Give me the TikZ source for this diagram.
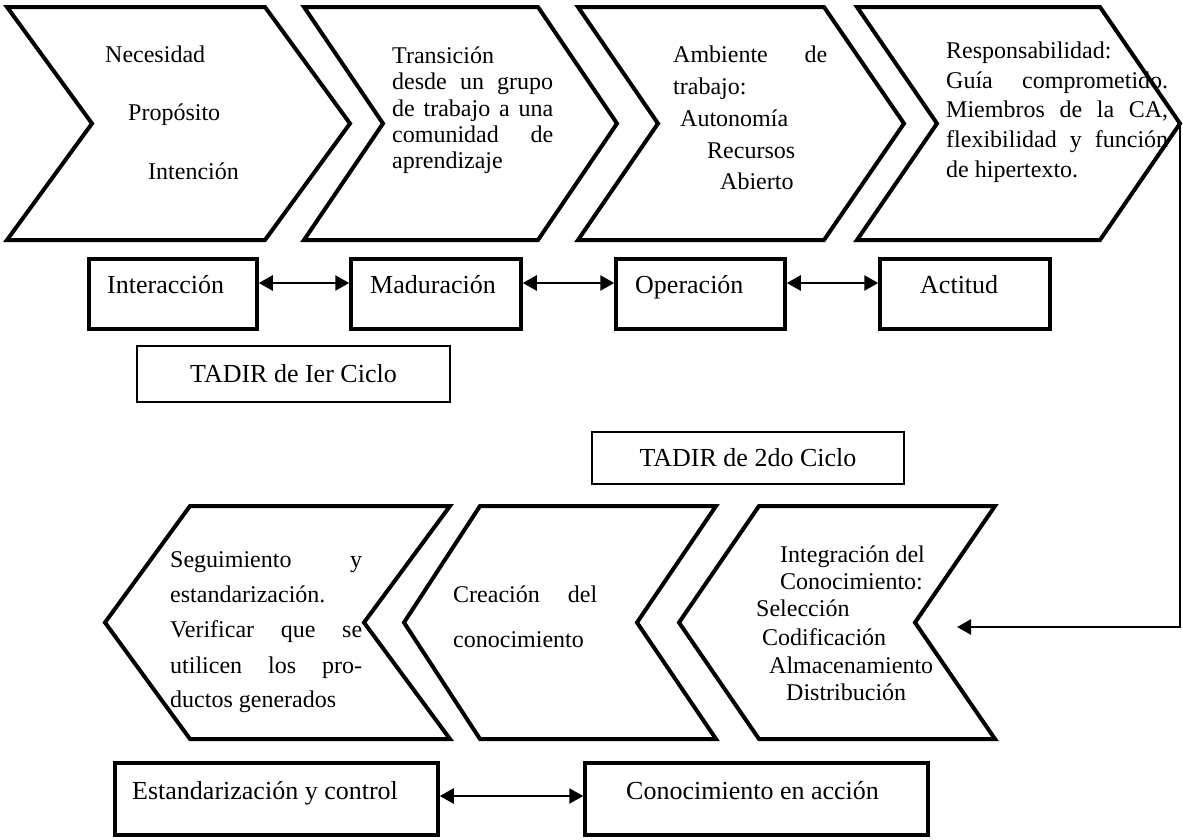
\documentclass[tikz,border=0pt]{standalone}
\usepackage{fontspec}
\setmainfont{Liberation Serif}
\usetikzlibrary{arrows.meta}
\begin{document}
\begin{tikzpicture}[x=1pt,y=-1pt,
  chev/.style={draw=black,line width=4pt,fill=white},
  stagebox/.style={draw=black,line width=3.5pt,inner sep=0pt},
  cyclebox/.style={draw=black,line width=1.4pt,inner sep=0pt,font=\fontsize{26}{30}\selectfont},
  txt/.style={anchor=base west,inner sep=0pt,font=\fontsize{24}{28}\selectfont},
  boxtxt/.style={anchor=base west,inner sep=0pt,font=\fontsize{26}{30}\selectfont},
  link/.style={line width=2.5pt,{Triangle[length=14pt,width=15pt]}-{Triangle[length=14pt,width=15pt]}},
  feed/.style={line width=2.5pt,-{Triangle[length=14pt,width=15pt]}}
]
\useasboundingbox (0,0) rectangle (1183,839);

% first cycle: chevrons pointing right
\foreach \l/\m/\r/\t in {7/92/265/350, 304/383/538/617, 578/658/824/904, 857/937/1100/1180}{
  \draw[chev] (\l,7) -- (\r,7) -- (\t,123.5) -- (\r,240) -- (\l,240) -- (\m,123.5) -- cycle;
}
\coordinate (tip4) at (1180,123.5);

% second cycle: chevrons pointing left
\foreach \t/\l/\m/\r in {105/190/364/450, 404/480/637/716, 679/759/915/995}{
  \draw[chev] (\l,506) -- (\r,506) -- (\m,622.5) -- (\r,739) -- (\l,739) -- (\t,622.5) -- cycle;
}
\coordinate (intin) at (957,627);

% texts of the first cycle
\node[txt] (n1) at (105,62) {Necesidad};
\node[txt] (n2) at (128,120) {Propósito};
\node[txt] (n3) at (148,179) {Intención};

\node[txt] (t1) at (392,63) {Transición};
\node[txt] (t2) at (392,89) {\makebox[161pt][s]{desde un grupo}};
\node[txt] (t3) at (392,116) {\makebox[161pt][s]{de trabajo a una}};
\node[txt] (t4) at (392,142) {\makebox[161pt][s]{comunidad de}};
\node[txt] (t5) at (392,168) {aprendizaje};

\node[txt] (a1) at (673,62) {\makebox[154pt][s]{Ambiente de}};
\node[txt] (a2) at (673,94) {trabajo:};
\node[txt] (a3) at (680,126) {Autonomía};
\node[txt] (a4) at (707,158) {Recursos};
\node[txt] (a5) at (720,189) {Abierto};

\node[txt] (r1) at (946,58) {Responsabilidad:};
\node[txt] (r2) at (946,88) {\makebox[222pt][s]{Guía comprometido.}};
\node[txt] (r3) at (946,117) {\makebox[222pt][s]{Miembros de la CA,}};
\node[txt] (r4) at (946,147) {\makebox[222pt][s]{flexibilidad y función}};
\node[txt] (r5) at (946,177) {de hipertexto.};

% texts of the second cycle
\node[txt] (s1) at (170,567) {\makebox[192pt][s]{Seguimiento y}};
\node[txt] (s2) at (170,602) {estandarización.};
\node[txt] (s3) at (170,637) {\makebox[192pt][s]{Verificar que se}};
\node[txt] (s4) at (170,673) {\makebox[192pt][s]{utilicen los pro-}};
\node[txt] (s5) at (170,707) {ductos generados};

\node[txt] (c1) at (453,602) {\makebox[144pt][s]{Creación del}};
\node[txt] (c2) at (453,647) {conocimiento};

\node[txt] (i1) at (780,562) {Integración del};
\node[txt] (i2) at (780,589) {Conocimiento:};
\node[txt] (i3) at (756,616) {Selección};
\node[txt] (i4) at (762,645) {Codificación};
\node[txt] (i5) at (769,673) {Almacenamiento};
\node[txt] (i6) at (786,700) {Distribución};

% stage boxes of the first cycle
\node[stagebox, minimum width=168pt, minimum height=70pt] (b1) at (173,294) {};
\node[stagebox, minimum width=170pt, minimum height=70pt] (b2) at (436,294) {};
\node[stagebox, minimum width=169pt, minimum height=70pt] (b3) at (700.5,294) {};
\node[stagebox, minimum width=170pt, minimum height=70pt] (b4) at (965,294) {};
\node[boxtxt] (b1t) at (107,293) {Interacción};
\node[boxtxt] (b2t) at (370,293) {Maduración};
\node[boxtxt] (b3t) at (635,293) {Operación};
\node[boxtxt] (b4t) at (920,293) {Actitud};

\draw[link] ([yshift=11pt]b1.east) -- ([yshift=11pt]b2.west);
\draw[link] ([yshift=11pt]b2.east) -- ([yshift=11pt]b3.west);
\draw[link] ([yshift=11pt]b3.east) -- ([yshift=11pt]b4.west);

% cycle titles
\node[cyclebox, minimum width=313pt, minimum height=56pt] (cyc1) at (293.5,374) {TADIR de Ier Ciclo};
\node[cyclebox, minimum width=312pt, minimum height=52pt] (cyc2) at (748,458) {TADIR de 2do Ciclo};

% stage boxes of the second cycle
\node[stagebox, minimum width=323pt, minimum height=72pt] (d1) at (276.5,799) {};
\node[stagebox, minimum width=343pt, minimum height=72pt] (d2) at (756.5,799) {};
\node[boxtxt] (d1t) at (132,799) {Estandarización y control};
\node[boxtxt] (d2t) at (626,799) {Conocimiento en acción};
\draw[link] ([yshift=3pt]d1.east) -- ([yshift=3pt]d2.west);

% feedback from the first cycle into the second
\draw[feed] (tip4) |- (intin);
\end{tikzpicture}
\end{document}
